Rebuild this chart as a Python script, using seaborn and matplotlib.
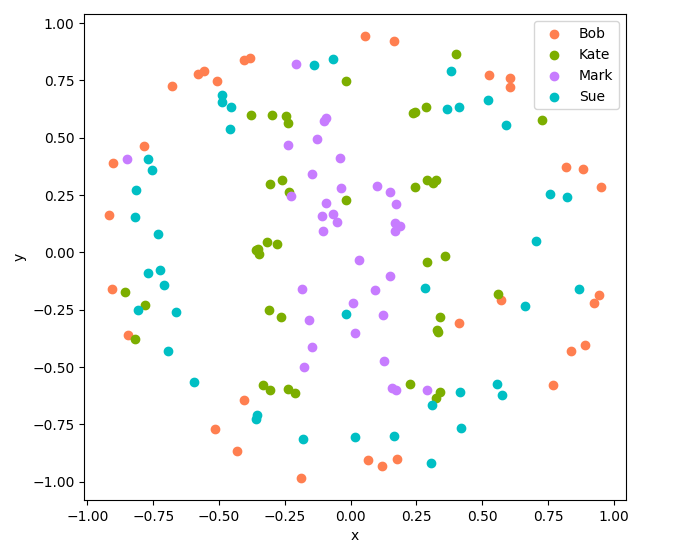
import pandas as pd
import matplotlib
matplotlib.use('Agg')
import matplotlib.pyplot as plt
import seaborn as sns

# points, one pair of lists per person
bob_x = [-0.406, -0.381, -0.581, -0.556, -0.508, -0.680, -0.786, -0.904, -0.919,
         0.053, 0.165, 0.526, 0.606, 0.606, 0.819, 0.883, 0.952,
         -0.908, -0.847, -0.406, -0.516, -0.432, -0.189,
         0.572, 0.412, 0.944, 0.925, 0.891, 0.838, 0.769, 0.066, 0.119, 0.176]
bob_y = [0.839, 0.848, 0.776, 0.790, 0.747, 0.726, 0.463, 0.389, 0.162,
         0.942, 0.920, 0.773, 0.760, 0.721, 0.371, 0.364, 0.285,
         -0.160, -0.359, -0.644, -0.770, -0.866, -0.984,
         -0.208, -0.307, -0.185, -0.221, -0.404, -0.431, -0.579, -0.906, -0.932, -0.901]

kate_x = [-0.018, -0.379, -0.299, -0.246, -0.237, -0.307, -0.261, -0.235, -0.018,
          -0.318, -0.280, -0.361, -0.351, -0.347,
          0.399, 0.237, 0.246, 0.286, 0.726, 0.245, 0.290, 0.313, 0.324, 0.359, 0.290,
          -0.858, -0.782, -0.820, -0.311, -0.265, -0.333, -0.307, -0.238, -0.212,
          0.560, 0.340, 0.329, 0.332, 0.224, 0.340, 0.324]
kate_y = [0.747, 0.599, 0.599, 0.595, 0.563, 0.297, 0.316, 0.265, 0.229,
          0.044, 0.037, 0.011, 0.016, -0.008,
          0.864, 0.606, 0.612, 0.633, 0.576, 0.284, 0.316, 0.304, 0.316, -0.014, -0.043,
          -0.173, -0.230, -0.378, -0.252, -0.282, -0.579, -0.600, -0.596, -0.614,
          -0.181, -0.283, -0.338, -0.347, -0.574, -0.609, -0.635]

mark_x = [-0.208, -0.094, -0.101, -0.128, -0.238, -0.042, -0.850, -0.147, -0.038,
          -0.227, -0.094, -0.067, -0.109, -0.052, -0.105,
          0.100, 0.149, 0.174, 0.167, 0.186, 0.167, 0.032,
          -0.185, -0.159, -0.147, -0.178, 0.009, 0.016,
          0.149, 0.092, 0.123, 0.127, 0.156, 0.174, 0.290]
mark_y = [0.820, 0.587, 0.573, 0.493, 0.467, 0.410, 0.406, 0.341, 0.281,
          0.246, 0.214, 0.168, 0.159, 0.132, 0.092,
          0.288, 0.262, 0.210, 0.130, 0.117, 0.095, -0.034,
          -0.160, -0.296, -0.413, -0.500, -0.221, -0.352,
          -0.104, -0.165, -0.274, -0.474, -0.590, -0.601, -0.599]

sue_x = [-0.141, -0.067, -0.489, -0.489, -0.455, -0.459, -0.771, -0.755, -0.816,
         -0.821, -0.733,
         0.381, 0.365, 0.412, 0.522, 0.590, 0.758, 0.822, 0.705,
         -0.771, -0.725, -0.710, -0.809, -0.664, -0.695, -0.596, -0.356, -0.360,
         -0.181, -0.018, 0.016,
         0.283, 0.663, 0.867, 0.416, 0.556, 0.575, 0.309, 0.419, 0.165, 0.305]
sue_y = [0.816, 0.843, 0.686, 0.654, 0.633, 0.537, 0.406, 0.359, 0.272,
         0.153, 0.081,
         0.789, 0.624, 0.633, 0.663, 0.554, 0.254, 0.242, 0.049,
         -0.091, -0.078, -0.142, -0.252, -0.261, -0.431, -0.566, -0.708, -0.727,
         -0.814, -0.268, -0.805,
         -0.156, -0.234, -0.160, -0.609, -0.574, -0.622, -0.666, -0.766, -0.801, -0.919]

names = ['Bob', 'Kate', 'Mark', 'Sue']
colors = ['coral', '#7CAE00', '#C77CFF', '#00BFC4']

df = pd.concat([
    pd.DataFrame({'x': bob_x, 'y': bob_y, 'name': 'Bob'}),
    pd.DataFrame({'x': kate_x, 'y': kate_y, 'name': 'Kate'}),
    pd.DataFrame({'x': mark_x, 'y': mark_y, 'name': 'Mark'}),
    pd.DataFrame({'x': sue_x, 'y': sue_y, 'name': 'Sue'}),
], ignore_index=True)

fig, ax = plt.subplots(figsize=(6.9, 5.49), dpi=100)
fig.subplots_adjust(left=0.122, right=0.907, top=0.974, bottom=0.089)

for name, col in zip(names, colors):
    sub = df[df['name'] == name]
    sns.scatterplot(data=sub, x='x', y='y', color=col, label=name, s=36,
                    edgecolor='face', linewidth=1.0, ax=ax)

ax.legend(loc='upper right')
ax.set_xlabel('x')
ax.set_ylabel('y')
ax.set_xticks([-1.0, -0.75, -0.5, -0.25, 0.0, 0.25, 0.5, 0.75, 1.0])
ax.set_yticks([-1.0, -0.75, -0.5, -0.25, 0.0, 0.25, 0.5, 0.75, 1.0])

fig.savefig('out.png')
